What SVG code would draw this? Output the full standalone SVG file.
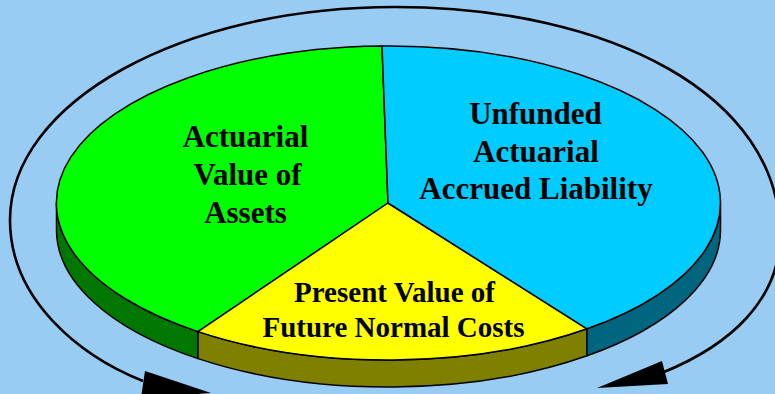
<svg xmlns="http://www.w3.org/2000/svg" width="775" height="394" viewBox="0 0 775 394">
<style>
.edge{stroke:#000;stroke-width:1.5;stroke-linejoin:round}
.lbl{font-family:"Liberation Serif","Times New Roman",serif;font-weight:bold;fill:#000;text-anchor:middle}
.big{font-size:31px}
.mid{font-size:29px}
.arc{fill:none;stroke:#000;stroke-width:2.6}
</style>
<rect width="775" height="394" fill="#99CCF2"/>
<g id="connectors">
<path class="arc" d="M143,381 C80,356 10,300 10,220 C10,102 182,7 395,7 C610,7 780,95 780,235 C780,300 730,345 664,372"/>
<polygon points="145,371 141,398 211,393" fill="#000"/>
<polygon points="662,361 668,384 597,388" fill="#000"/>
</g>
<g id="assets">
<path class="edge" fill="#007700" d="M56.5,203 A332,157 0 0 0 198,331.6 L198,358.6 A332,157 0 0 1 56.5,230 Z"/>
<path class="edge" fill="#00FF00" d="M388,203 L198,331.6 A332,157 0 0 1 382,46 Z"/>
<text class="lbl big" x="245.5" y="147">Actuarial</text>
<text class="lbl big" x="247.5" y="185">Value of</text>
<text class="lbl big" x="245.5" y="222.5">Assets</text>
</g>
<g id="normal-costs">
<path class="edge" fill="#808000" d="M198,331.6 A332,157 0 0 0 587,328.8 L587,355.8 A332,157 0 0 1 198,358.6 Z"/>
<path class="edge" fill="#FFFF00" d="M388,203 L587,328.8 A332,157 0 0 1 198,331.6 Z"/>
<text class="lbl mid" x="394.5" y="301.5">Present Value of</text>
<text class="lbl mid" x="393.5" y="336.5">Future Normal Costs</text>
</g>
<g id="unfunded">
<path class="edge" fill="#006680" d="M587,328.8 A332,157 0 0 0 720.5,203 L720.5,230 A332,157 0 0 1 587,355.8 Z"/>
<path class="edge" fill="#00CCFF" d="M388,203 L382,46 A332,157 0 0 1 587,328.8 Z"/>
<text class="lbl big" x="535.5" y="124">Unfunded</text>
<text class="lbl big" x="536" y="161.5">Actuarial</text>
<text class="lbl big" x="536" y="199">Accrued Liability</text>
</g>
</svg>
